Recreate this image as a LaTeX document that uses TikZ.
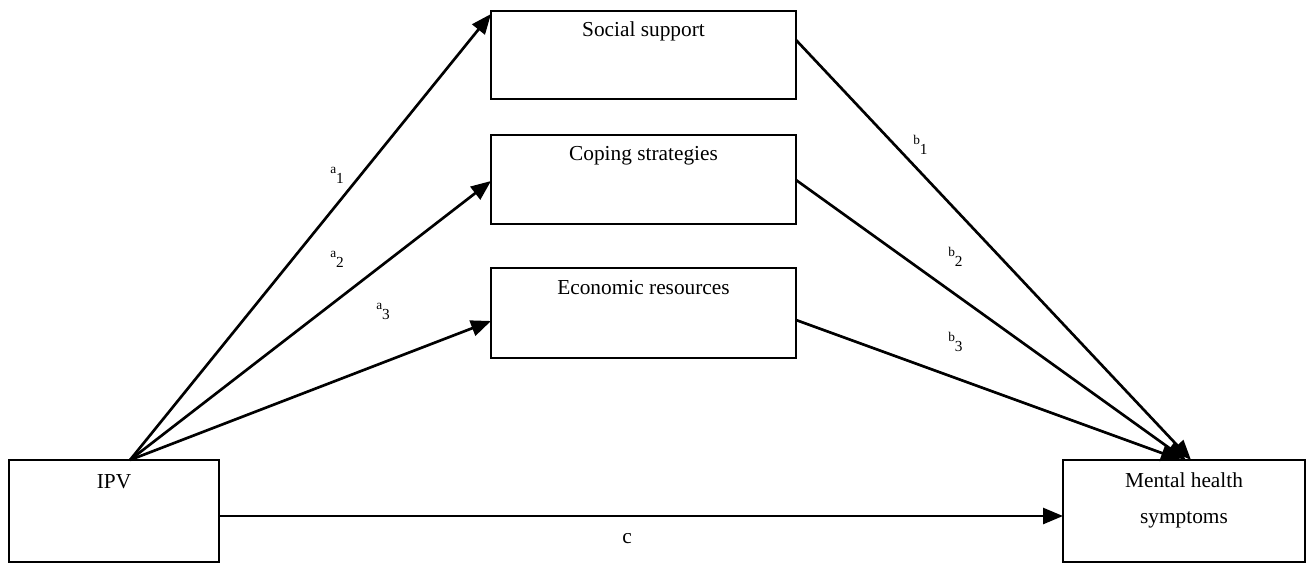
\documentclass[tikz,border=0pt]{standalone}
\usepackage{fontspec}
\setmainfont{Liberation Serif}
\usetikzlibrary{arrows.meta,calc}
\newcommand\sublab[2]{{\fontsize{10}{11}\selectfont #1}\raisebox{-8pt}{\fontsize{11.5}{12}\selectfont #2}}
\begin{document}
\begin{tikzpicture}[x=0.75pt,y=-0.75pt,
  box/.style={draw,line width=1.9pt,inner sep=0pt,outer sep=0pt},
  txt/.style={font=\fontsize{16}{19}\selectfont,anchor=base,inner sep=0pt},
  lab/.style={anchor=base west,inner sep=0pt},
  arr/.style={line width=2pt,-{Triangle[length=15pt,width=12pt]}}]
\useasboundingbox (0,0) rectangle (1308,563);
% boxes
\node[box,minimum width=305*0.75pt,minimum height=88*0.75pt] (ss) at (643.5,55) {};
\node[box,minimum width=305*0.75pt,minimum height=89*0.75pt] (cs) at (643.5,179.5) {};
\node[box,minimum width=305*0.75pt,minimum height=90*0.75pt] (er) at (643.5,313) {};
\node[box,minimum width=210*0.75pt,minimum height=102*0.75pt] (ipv) at (114,511) {};
\node[box,minimum width=242*0.75pt,minimum height=102*0.75pt] (mh) at (1184,511) {};
% texts
\node[txt] (sst) at (643.5,37) {Social support};
\node[txt] (cst) at (643.5,161) {Coping strategies};
\node[txt] (ert) at (643.5,294) {Economic resources};
\node[txt] (ipvt) at (114,488) {IPV};
\node[txt] (mht1) at (1184,487) {Mental health};
\node[txt] (mht2) at (1184,523) {symptoms};
% connector points
\coordinate (ipvtop) at (130,460);
\coordinate (ssin) at (491,14);
\coordinate (csin) at (491,181);
\coordinate (erin) at (491,321);
\coordinate (ssout) at (796,40);
\coordinate (csout) at (796,180);
\coordinate (erout) at (796,320);
\coordinate (mh1) at (1191,460);
\coordinate (mh2) at (1186,460);
\coordinate (mh3) at (1181,460);
\coordinate (ipvr) at (219,516);
\coordinate (mhl) at (1063,516);
% arrows
\draw[arr] (ipvtop) -- (ssin);
\draw[arr] (ipvtop) -- (csin);
\draw[arr] (ipvtop) -- (erin);
\draw[arr] (ssout) -- (mh1);
\draw[arr] (csout) -- (mh2);
\draw[arr] (erout) -- (mh3);
\draw[arr] (ipvr) -- (mhl);
\coordinate (thinA) at (581,516);
\coordinate (thinB) at (672,516);
\draw[white,line width=2.6pt] (thinA) -- (thinB);
\draw[line width=1pt] (thinA) -- (thinB);
% labels
\node[lab] (a1) at (330,173) {\sublab{a}{1}};
\node[lab] (a2) at (330,257) {\sublab{a}{2}};
\node[lab] (a3) at (376,309) {\sublab{a}{3}};
\node[lab] (b1) at (913,144) {\sublab{b}{1}};
\node[lab] (b2) at (948,256) {\sublab{b}{2}};
\node[lab] (b3) at (948,341) {\sublab{b}{3}};
\node[txt] (c) at (627,543) {c};
\end{tikzpicture}
\end{document}
